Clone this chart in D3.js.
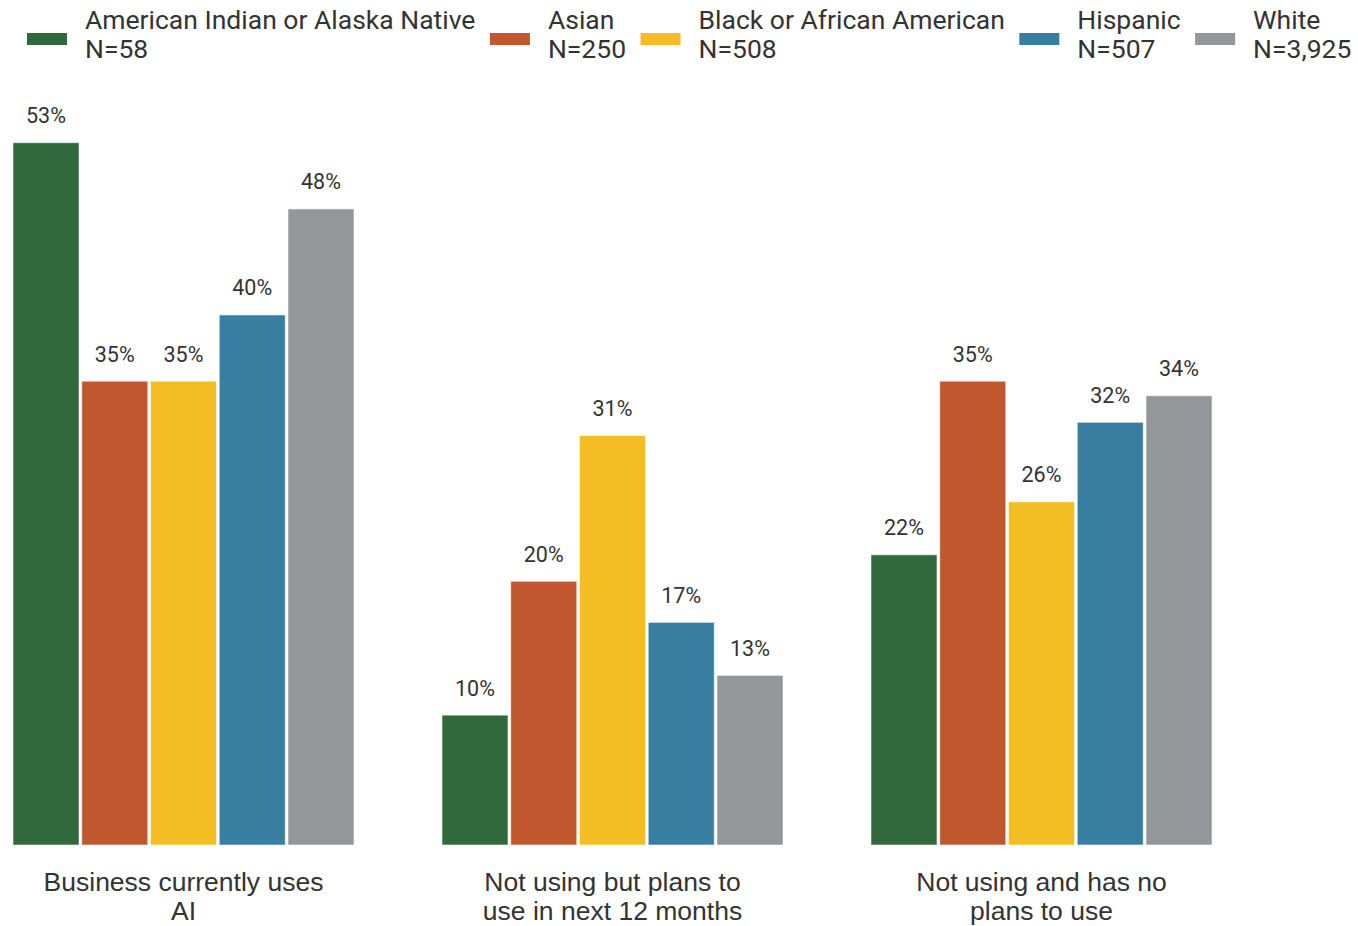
<!DOCTYPE html>
<html>
<head>
<meta charset="utf-8">
<script src="https://cdn.jsdelivr.net/npm/d3@7"></script>
<style>
  html, body { margin: 0; padding: 0; background: #fff; }
  svg { display: block; }
</style>
</head>
<body>
<svg id="chart" width="1358" height="926"></svg>
<script>
const categories = [
  ["Business currently uses", "AI"],
  ["Not using but plans to", "use in next 12 months"],
  ["Not using and has no", "plans to use"]
];
const seriesNames = ["American Indian or Alaska Native", "Asian", "Black or African American", "Hispanic", "White"];
const seriesN = ["N=58", "N=250", "N=508", "N=507", "N=3,925"];
const seriesColors = ["#31693D", "#C0572F", "#F5BD24", "#387EA1", "#95969A"];
// values per category, in series order (percent)
const valuesUses = [53.0, 35.0, 35.0, 40.0, 48.0];
const valuesPlans = [9.8, 19.9, 30.9, 16.8, 12.8];
const valuesNoPlans = [21.9, 35.0, 25.9, 31.9, 33.9];
const allValues = [valuesUses, valuesPlans, valuesNoPlans];

const svg = d3.select("#chart");
const textColor = "#333333";

const x0 = d3.scaleBand().domain(d3.range(categories.length)).range([13, 1212]).paddingInner(88 / 429).paddingOuter(0);
const x1 = d3.scaleBand().domain(d3.range(seriesNames.length)).range([0, x0.bandwidth()]).paddingInner(0.04).paddingOuter(0);
const y = d3.scaleLinear().domain([0, 53]).range([845, 142.7]);
const fmt = d3.format(".0f");

const groups = svg.append("g").selectAll("g")
  .data(allValues)
  .join("g")
  .attr("transform", (d, i) => `translate(${x0(i)},0)`);

groups.selectAll("rect")
  .data(d => d)
  .join("rect")
  .attr("x", (d, i) => x1(i))
  .attr("y", d => y(d))
  .attr("width", x1.bandwidth())
  .attr("height", d => y(0) - y(d))
  .attr("fill", (d, i) => seriesColors[i])
  .attr("stroke", "rgba(255,255,255,0.55)")
  .attr("stroke-width", 1);

groups.selectAll("text")
  .data(d => d)
  .join("text")
  .attr("x", (d, i) => x1(i) + x1.bandwidth() / 2)
  .attr("y", d => y(d) - 19.5)
  .attr("text-anchor", "middle")
  .attr("font-family", "Roboto, sans-serif")
  .attr("font-size", 21.5)
  .attr("fill", textColor)
  .text(d => fmt(d) + "%");

// category labels
const catG = svg.append("g");
categories.forEach((lines, i) => {
  const cx = x0(i) + x0.bandwidth() / 2;
  const t = catG.append("text")
    .attr("x", cx)
    .attr("y", 891)
    .attr("text-anchor", "middle")
    .attr("font-family", "'Liberation Sans', Arial, sans-serif")
    .attr("font-size", 26.5)
    .attr("fill", textColor);
  lines.forEach((l, j) => {
    t.append("tspan").attr("x", cx).attr("dy", j === 0 ? 0 : 29).text(l);
  });
});

// legend
const legend = svg.append("g");
let lx = 27;
seriesNames.forEach((name, i) => {
  const g = legend.append("g").attr("transform", `translate(${lx},0)`);
  g.append("rect").attr("x", 0).attr("y", 33).attr("width", 40).attr("height", 12).attr("fill", seriesColors[i]);
  const t = g.append("text")
    .attr("x", 58).attr("y", 28.5)
    .attr("font-family", "Roboto, sans-serif")
    .attr("font-size", 26.5)
    .attr("fill", textColor);
  t.append("tspan").attr("x", 58).attr("dy", 0).text(name);
  t.append("tspan").attr("x", 58).attr("dy", 29).text(seriesN[i]);
  const w = t.node().getBBox().width;
  lx += 58 + w + 14.5;
});
</script>
</body>
</html>
